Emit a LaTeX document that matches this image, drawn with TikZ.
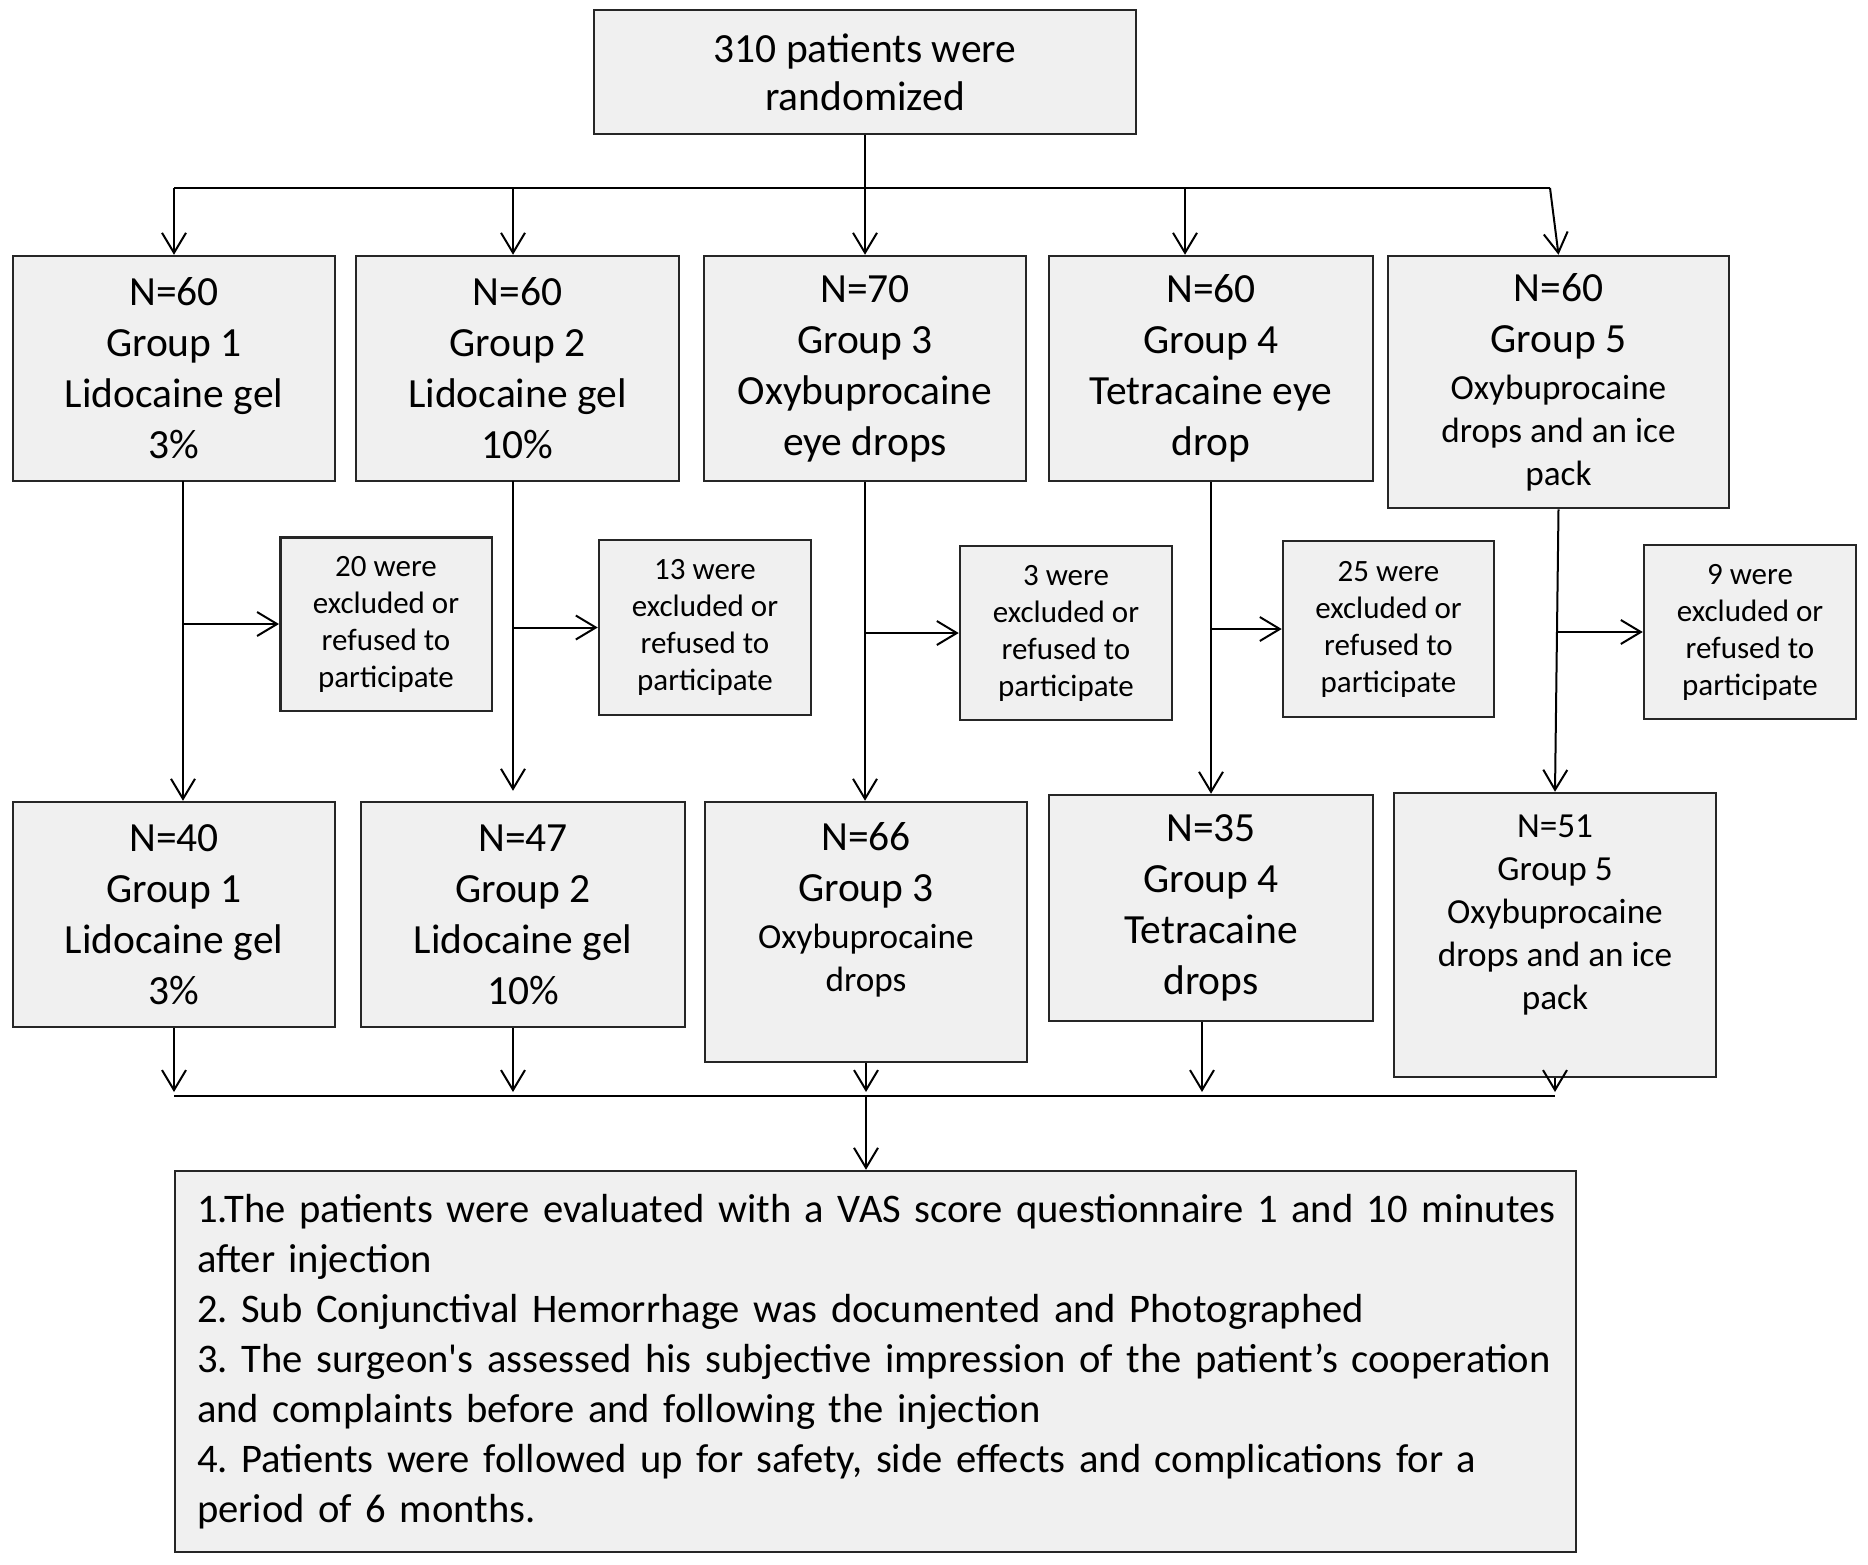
\documentclass[tikz,border=0pt]{standalone}
\usepackage{fontspec}
\setmainfont{Carlito}
\usetikzlibrary{arrows.meta}
\definecolor{boxgray}{HTML}{F0F0F0}
\definecolor{edge}{HTML}{262626}
\frenchspacing
\begin{document}
\begin{tikzpicture}[x=0.5pt,y=-0.5pt,
  box/.style={draw=edge, line width=1.25pt, fill=boxgray, inner sep=0pt, align=center,
    font=\fontsize{20.75}{25.5}\selectfont},
  smallbox/.style={box, font=\fontsize{17.6}{21.5}\selectfont},
  exbox/.style={box, font=\fontsize{15.5}{18.5}\selectfont},
  conn/.style={draw=black, line width=1pt},
  arr/.style={conn, -{Straight Barb[length=10pt,width=12pt,line width=1pt]}},
]
\useasboundingbox (0,0) rectangle (1868,1564);
\newcommand{\sm}{\fontsize{17.6}{21.5}\selectfont}

% top
\node[box, minimum width=271pt, minimum height=62pt] (top) at (865,72) {310 patients were\\[-1.5pt]randomized};

% row 1
\node[box, minimum width=161pt, minimum height=112.5pt] (g1) at (174,368.5) {N=60\\Group 1\\Lidocaine gel\\3\%};
\node[box, minimum width=161.5pt, minimum height=112.5pt] (g2) at (517.5,368.5) {N=60\\Group 2\\Lidocaine gel\\10\%};
\node[box, minimum width=161pt, minimum height=112.5pt] (g3) at (865,368.5) {N=70\\Group 3\\Oxybuprocaine\\eye drops};
\node[box, minimum width=162pt, minimum height=112.5pt] (g4) at (1211,368.5) {N=60\\Group 4\\Tetracaine eye\\drop};
\node[box, minimum width=170.5pt, minimum height=126pt] (g5) at (1558.5,382) {N=60\\Group 5\\[-2pt]{\sm Oxybuprocaine}\\[-4pt]{\sm drops and an ice}\\[-4pt]{\sm pack}};

% exclusions
\node[exbox, minimum width=105.75pt, minimum height=86.75pt] (e1) at (386,624) {20 were\\excluded or\\refused to\\participate};
\node[exbox, minimum width=106pt, minimum height=87.5pt] (e2) at (705,627.5) {13 were\\excluded or\\refused to\\participate};
\node[exbox, minimum width=106pt, minimum height=87pt] (e3) at (1066,633) {3 were\\excluded or\\refused to\\participate};
\node[exbox, minimum width=105.5pt, minimum height=88pt] (e4) at (1388.5,629) {25 were\\excluded or\\refused to\\participate};
\node[exbox, minimum width=106pt, minimum height=87pt] (e5) at (1750,632) {9 were\\excluded or\\refused to\\participate};

% row 2
\node[box, minimum width=161pt, minimum height=112.5pt] (r1) at (174,914.5) {N=40\\Group 1\\Lidocaine gel\\3\%};
\node[box, minimum width=162pt, minimum height=112.5pt] (r2) at (523,914.5) {N=47\\Group 2\\Lidocaine gel\\10\%};
\node[box, minimum width=161pt, minimum height=130pt] (r3) at (866,932) {N=66\\Group 3\\[-2pt]{\sm Oxybuprocaine}\\[-4pt]{\sm drops}\\[0pt]\mbox{}};
\node[box, minimum width=162pt, minimum height=113pt] (r4) at (1211,908) {N=35\\Group 4\\Tetracaine\\drops};
\node[smallbox, minimum width=161pt, minimum height=142pt] (r5) at (1555,935) {N=51\\Group 5\\Oxybuprocaine\\drops and an ice\\pack\\[1pt]\mbox{}};

% evaluation
\node[box, align=left, text width=678.5pt, minimum width=700.5pt, minimum height=190.5pt,
  font=\fontsize{20.3}{25}\selectfont] (eval) at (875.5,1361.5)
  {\mbox{1.The patients were evaluated with a VAS score questionnaire 1 and 10 minutes}\\
   \mbox{after injection}\\
   \mbox{2. Sub Conjunctival Hemorrhage was documented and Photographed}\\
   \mbox{3. The surgeon\textquotesingle s assessed his subjective impression of the patient’s cooperation}\\
   \mbox{and complaints before and following the injection}\\
   \mbox{4. Patients were followed up for safety, side effects and complications for a}\\
   \mbox{period of 6 months.}};

% top distribution
\coordinate (b1) at (174,188);
\coordinate (b2) at (513,188);
\coordinate (b4) at (1185,188);
\coordinate (b5) at (1550,188);
\draw[conn] (b1) -- (b5);
\draw[arr] (top.south) -- (g3.north);
\draw[arr] (b1) -- (b1 |- g1.north);
\draw[arr] (b2) -- (b2 |- g2.north);
\draw[arr] (b4) -- (b4 |- g4.north);
\draw[arr] (b5) -- (g5.north);

% row 1 to row 2 and exclusions
\coordinate (d1) at (183,481);
\draw[arr] (d1) -- (d1 |- r1.north);
\draw[arr] (d1 |- e1.west) -- (e1.west);
\coordinate (d2) at (513,481);
\draw[arr, shorten >=5pt] (d2) -- (d2 |- r2.north);
\draw[arr] (d2 |- e2.west) -- (e2.west);
\draw[arr] (g3.south) -- (g3.south |- r3.north);
\draw[arr] (g3.south |- e3.west) -- (e3.west);
\draw[arr] (g4.south) -- (r4.north);
\draw[arr] (g4.south |- e4.west) -- (e4.west);
\draw[arr] (g5.south) -- (r5.north);
\coordinate (h5) at (1556,632);
\draw[arr] (h5) -- (e5.west);

% row 2 to evaluation
\coordinate (c1) at (174,1096);
\coordinate (c2) at (513,1096);
\coordinate (c3) at (866,1096);
\coordinate (c4) at (1202,1096);
\coordinate (c5) at (1555,1096);
\draw[conn] (c1) -- (c5);
\draw[arr, shorten >=2pt] (r1.south) -- (c1);
\draw[arr, shorten >=2pt] (c2 |- r2.south) -- (c2);
\draw[arr, shorten >=2pt] (r3.south) -- (c3);
\draw[arr, shorten >=2pt] (c4 |- r4.south) -- (c4);
\draw[arr, shorten >=2pt] (r5.south) -- (c5);
\draw[arr] (c3) -- (c3 |- eval.north);
\end{tikzpicture}
\end{document}
